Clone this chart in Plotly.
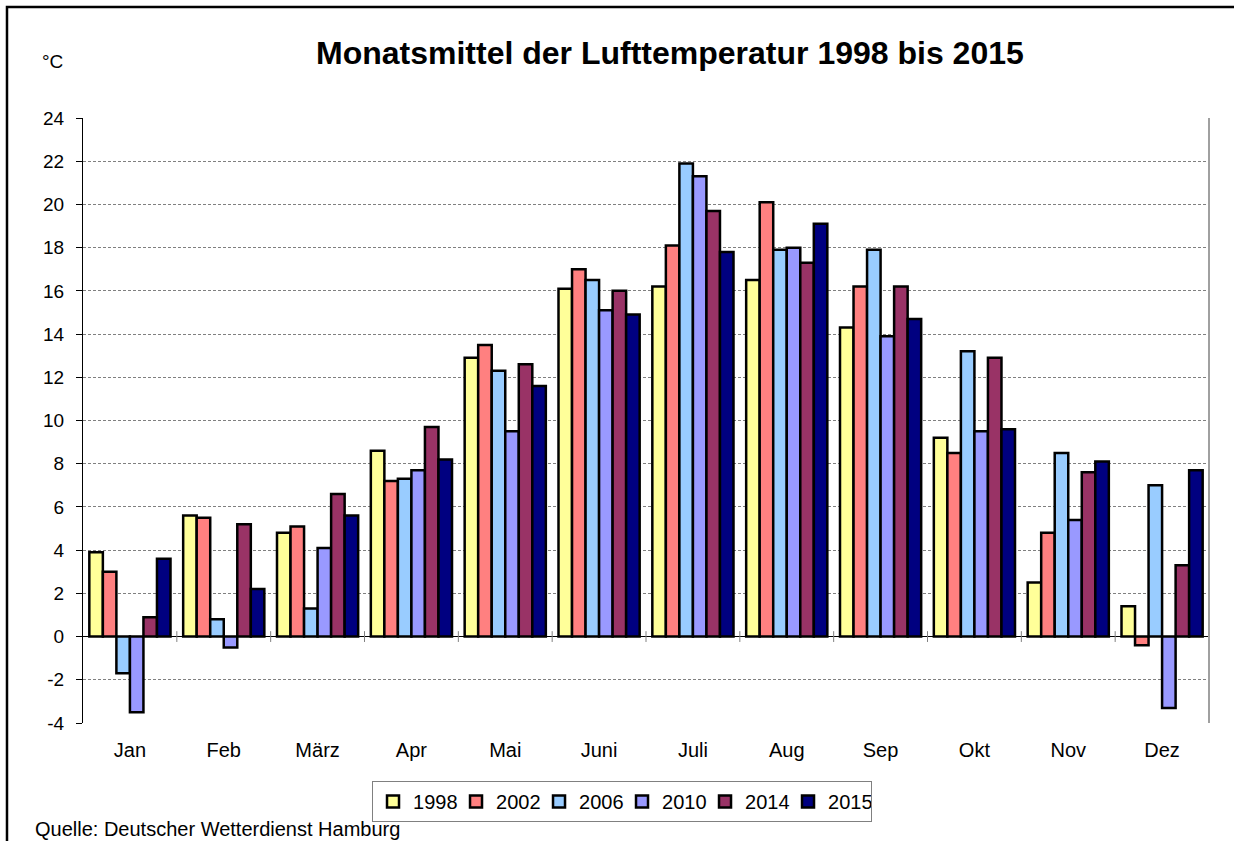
import plotly.graph_objects as go

months = ["Jan", "Feb", "März", "Apr", "Mai", "Juni", "Juli", "Aug", "Sep", "Okt", "Nov", "Dez"]
years = ["1998", "2002", "2006", "2010", "2014", "2015"]
colors = ["#FFFF99", "#FF8080", "#99CCFF", "#9999FF", "#993366", "#000080"]

t1998 = [3.9, 5.6, 4.8, 8.6, 12.9, 16.1, 16.2, 16.5, 14.3, 9.2, 2.5, 1.4]
t2002 = [3.0, 5.5, 5.1, 7.2, 13.5, 17.0, 18.1, 20.1, 16.2, 8.5, 4.8, -0.4]
t2006 = [-1.7, 0.8, 1.3, 7.3, 12.3, 16.5, 21.9, 17.9, 17.9, 13.2, 8.5, 7.0]
t2010 = [-3.5, -0.5, 4.1, 7.7, 9.5, 15.1, 21.3, 18.0, 13.9, 9.5, 5.4, -3.3]
t2014 = [0.9, 5.2, 6.6, 9.7, 12.6, 16.0, 19.7, 17.3, 16.2, 12.9, 7.6, 3.3]
t2015 = [3.6, 2.2, 5.6, 8.2, 11.6, 14.9, 17.8, 19.1, 14.7, 9.6, 8.1, 7.7]

series = [t1998, t2002, t2006, t2010, t2014, t2015]
y_ticks = list(range(-4, 25, 2))
y_tick_labels = [str(v) for v in y_ticks]

FONT = "Liberation Sans, Arial, sans-serif"

fig = go.Figure()
for name, vals, col in zip(years, series, colors):
    fig.add_trace(go.Bar(
        x=months, y=vals, name=name,
        marker=dict(color=col, line=dict(color="black", width=2.5)),
    ))

shapes = []
# category boundary tick marks crossing the zero line
for i in range(1, len(months) + 1):
    shapes.append(dict(type="line", xref="x", yref="y", x0=i - 0.5, x1=i - 0.5,
                       y0=-0.25, y1=0.25, line=dict(color="#808080", width=1)))
# right edge of plot area
shapes.append(dict(type="line", xref="paper", yref="paper", x0=1, x1=1, y0=0, y1=1,
                   line=dict(color="#A0A0A0", width=2)))
# outer chart frame
shapes.append(dict(type="rect", xref="paper", yref="paper", x0=-0.0675, x1=1.2,
                   y0=-0.4, y1=1.1835, line=dict(color="black", width=2.5),
                   fillcolor="rgba(0,0,0,0)", layer="above"))

fig.update_layout(
    width=1234, height=841,
    margin=dict(l=83, r=25, t=118, b=118),
    paper_bgcolor="white", plot_bgcolor="white",
    font=dict(family=FONT, size=19, color="black"),
    barmode="group", bargap=0.135, bargroupgap=0,
    showlegend=True,
    legend=dict(orientation="h", x=0.4787, xanchor="center", y=-0.0959, yanchor="top",
                bordercolor="#808080", borderwidth=1, font=dict(size=20),
                itemwidth=30, entrywidth=38, entrywidthmode="pixels",
                tracegroupgap=0, traceorder="normal"),
    shapes=shapes,
    annotations=[
        dict(text="<b>Monatsmittel der Lufttemperatur 1998 bis 2015</b>", xref="paper", yref="paper",
             x=0.521, y=1.108, xanchor="center", yanchor="middle", showarrow=False,
             font=dict(size=32, family=FONT)),
        dict(text="°C", xref="paper", yref="paper", x=-0.0275, y=1.093, xanchor="center",
             yanchor="middle", showarrow=False, font=dict(size=19)),
        dict(text="Quelle: Deutscher Wetterdienst Hamburg", xref="paper", yref="paper",
             x=-0.0445, y=-0.175, xanchor="left", yanchor="middle", showarrow=False,
             font=dict(size=20)),
    ],
)
fig.update_xaxes(type="category", range=[-0.5, 11.5], showgrid=False, showline=False,
                 ticks="", ticklabelstandoff=13, tickfont=dict(size=20))
fig.update_yaxes(range=[-4, 24], tickmode="array", tickvals=y_ticks, ticktext=y_tick_labels,
                 showgrid=True, gridcolor="#808080",
                 griddash="3px,2px", gridwidth=1, zeroline=True, zerolinecolor="black",
                 zerolinewidth=1, showline=True, linecolor="black", linewidth=1,
                 ticks="outside", ticklen=6, tickcolor="black", ticklabelstandoff=8,
                 tickfont=dict(size=19))

fig.write_html("out.html", config={"displayModeBar": False},
               post_script="document.body.style.margin='0';document.body.style.overflow='hidden';")
